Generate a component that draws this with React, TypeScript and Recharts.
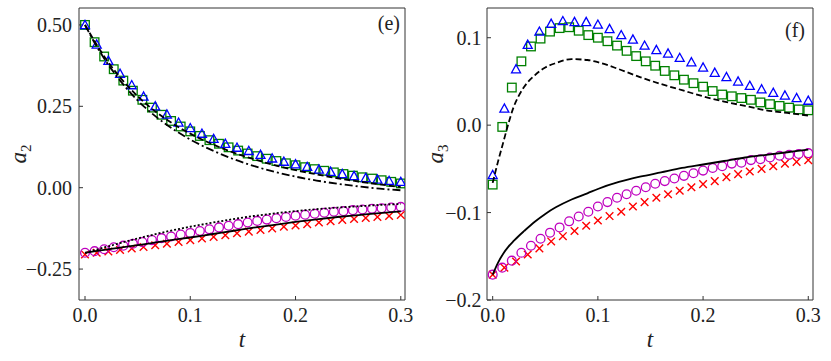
import React from "react";
import { ComposedChart, Line, Scatter, XAxis, YAxis } from "recharts";

// t positions of the markers
const tDense = [
  0, 0.0091, 0.0182, 0.0273, 0.0364, 0.0455, 0.0545, 0.0636, 0.0727, 0.0818, 0.0909, 0.1,
  0.1091, 0.1182, 0.1273, 0.1364, 0.1455, 0.1545, 0.1636, 0.1727, 0.1818, 0.1909, 0.2,
  0.2091, 0.2182, 0.2273, 0.2364, 0.2455, 0.2545, 0.2636, 0.2727, 0.2818, 0.2909, 0.3,
];
const tSparse = [
  0, 0.0111, 0.0222, 0.0333, 0.0444, 0.0556, 0.0667, 0.0778, 0.0889, 0.1, 0.1111, 0.1222,
  0.1333, 0.1444, 0.1556, 0.1667, 0.1778, 0.1889, 0.2, 0.2111, 0.2222, 0.2333, 0.2444,
  0.2556, 0.2667, 0.2778, 0.2889, 0.3,
];
const tLineE = [0, 0.01, 0.02, 0.03, 0.04, 0.05, 0.06, 0.08, 0.1, 0.12, 0.14, 0.16, 0.18, 0.2, 0.22, 0.24, 0.26, 0.28, 0.3];
const tLineF = [
  0, 0.005, 0.01, 0.015, 0.02, 0.025, 0.03, 0.04, 0.05, 0.06, 0.075, 0.09, 0.1, 0.12, 0.14,
  0.16, 0.18, 0.2, 0.22, 0.24, 0.26, 0.28, 0.3,
];

// panel (e): a2
const eTriangle = [
  0.5, 0.44, 0.39, 0.35, 0.315, 0.28, 0.25, 0.225, 0.2, 0.183, 0.166, 0.15, 0.135, 0.123,
  0.113, 0.101, 0.09, 0.08, 0.072, 0.064, 0.056, 0.049, 0.042, 0.036, 0.03, 0.025, 0.021, 0.018,
];
const eSquare = [
  0.5, 0.447, 0.403, 0.364, 0.329, 0.298, 0.27, 0.246, 0.224, 0.205, 0.188, 0.173, 0.159,
  0.146, 0.135, 0.124, 0.114, 0.105, 0.097, 0.089, 0.082, 0.075, 0.069, 0.063, 0.057, 0.052,
  0.047, 0.042, 0.037, 0.032, 0.028, 0.023, 0.018, 0.013,
];
const eCircle = [
  -0.2, -0.195, -0.189, -0.183, -0.178, -0.172, -0.167, -0.161, -0.155, -0.15, -0.144, -0.139,
  -0.133, -0.128, -0.122, -0.117, -0.112, -0.107, -0.102, -0.098, -0.094, -0.09, -0.086,
  -0.083, -0.08, -0.077, -0.074, -0.072, -0.069, -0.067, -0.065, -0.063, -0.061, -0.059,
];
const eCross = [
  -0.205, -0.2, -0.196, -0.191, -0.187, -0.182, -0.177, -0.172, -0.167, -0.161, -0.156, -0.151,
  -0.146, -0.14, -0.135, -0.13, -0.125, -0.12, -0.116, -0.112, -0.107, -0.103, -0.099, -0.096,
  -0.093, -0.09, -0.087, -0.084,
];
const eDashed = [0.5, 0.445, 0.395, 0.352, 0.314, 0.281, 0.252, 0.204, 0.166, 0.135, 0.109, 0.088, 0.069, 0.054, 0.041, 0.029, 0.019, 0.01, 0.002];
const eDashDot = [0.5, 0.44, 0.388, 0.343, 0.303, 0.268, 0.238, 0.188, 0.148, 0.116, 0.089, 0.067, 0.049, 0.034, 0.022, 0.012, 0.004, -0.003, -0.008];
const eSolid = [-0.2, -0.195, -0.19, -0.1855, -0.181, -0.1765, -0.172, -0.162, -0.153, -0.143, -0.133, -0.123, -0.114, -0.105, -0.097, -0.09, -0.084, -0.078, -0.073];
const eDotted = [-0.2, -0.191, -0.182, -0.173, -0.164, -0.156, -0.148, -0.133, -0.12, -0.108, -0.097, -0.087, -0.079, -0.072, -0.066, -0.061, -0.057, -0.053, -0.05];

// panel (f): a3
const fTriangle = [
  -0.057, 0.019, 0.064, 0.092, 0.107, 0.116, 0.119, 0.118, 0.118, 0.115, 0.11, 0.103, 0.098,
  0.091, 0.086, 0.082, 0.077, 0.072, 0.066, 0.06, 0.055, 0.05, 0.045, 0.041, 0.037, 0.034,
  0.031, 0.028,
];
const fSquare = [
  -0.068, -0.002, 0.043, 0.073, 0.09, 0.099, 0.107, 0.111, 0.112, 0.108, 0.103, 0.1, 0.096,
  0.091, 0.085, 0.079, 0.073, 0.068, 0.062, 0.057, 0.052, 0.048, 0.044, 0.039, 0.035, 0.033,
  0.031, 0.029, 0.026, 0.024, 0.022, 0.02, 0.018, 0.017,
];
const fCircle = [
  -0.171, -0.163, -0.155, -0.146, -0.138, -0.13, -0.123, -0.117, -0.11, -0.1045, -0.099, -0.093,
  -0.088, -0.083, -0.079, -0.075, -0.071, -0.067, -0.064, -0.061, -0.058, -0.055, -0.052,
  -0.049, -0.047, -0.044, -0.043, -0.04, -0.039, -0.037, -0.035, -0.034, -0.033, -0.032,
];
const fCross = [
  -0.171, -0.163, -0.156, -0.148, -0.141, -0.133, -0.127, -0.121, -0.115, -0.109, -0.104,
  -0.099, -0.093, -0.088, -0.083, -0.079, -0.075, -0.071, -0.0675, -0.064, -0.0595, -0.056,
  -0.053, -0.05, -0.047, -0.044, -0.042, -0.04,
];
const fDashed = [-0.066, -0.042, -0.02, 0.002, 0.021, 0.034, 0.044, 0.057, 0.066, 0.071, 0.0755, 0.0745, 0.072, 0.064, 0.055, 0.047, 0.04, 0.033, 0.027, 0.022, 0.017, 0.014, 0.011];
const fSolid = [-0.171, -0.1575, -0.147, -0.139, -0.1325, -0.1265, -0.121, -0.1105, -0.1015, -0.094, -0.085, -0.078, -0.073, -0.065, -0.059, -0.054, -0.049, -0.045, -0.041, -0.037, -0.034, -0.031, -0.028];

const xTicks = [0, 0.1, 0.2, 0.3];
const eYTicks = [-0.25, 0, 0.25, 0.5];
const fYTicks = [-0.2, -0.1, 0, 0.1];

const FONT = "Liberation Serif, DejaVu Serif, Times New Roman, serif";
const INK = "#222";

const pts = (t: number[], v: number[]) => t.map((tt, i) => ({ t: tt, v: v[i] }));
const fmt = (digits: number) => (v: number) =>
  (v < 0 ? "\u2212" : "") + Math.abs(v).toFixed(digits);

const TriangleMark = (p: any) => {
  const { cx, cy } = p;
  if (cx == null || cy == null) return null;
  return (
    <path
      d={`M${cx},${cy - 4.6}L${cx - 4.5},${cy + 3.6}L${cx + 4.5},${cy + 3.6}Z`}
      fill="none"
      stroke="#0000ff"
      strokeWidth={1.3}
    />
  );
};
const SquareMark = (p: any) => {
  const { cx, cy } = p;
  if (cx == null || cy == null) return null;
  return <rect x={cx - 4.3} y={cy - 4.3} width={8.6} height={8.6} fill="none" stroke="#008000" strokeWidth={1.3} />;
};
const CircleMark = (p: any) => {
  const { cx, cy } = p;
  if (cx == null || cy == null) return null;
  return <circle cx={cx} cy={cy} r={4.4} fill="none" stroke="#bf00bf" strokeWidth={1.3} />;
};
const CrossMark = (p: any) => {
  const { cx, cy } = p;
  if (cx == null || cy == null) return null;
  const r = 3.8;
  return (
    <path
      d={`M${cx - r},${cy - r}L${cx + r},${cy + r}M${cx - r},${cy + r}L${cx + r},${cy - r}`}
      stroke="#ff0000"
      strokeWidth={1.4}
    />
  );
};

const YTitle = (props: any) => {
  const { viewBox, sub, bx } = props;
  const cy = viewBox.y + viewBox.height / 2;
  return (
    <text
      transform={`translate(${bx},${cy}) rotate(-90)`}
      textAnchor="middle"
      style={{ fontFamily: FONT, fontSize: 23 }}
      fill={INK}
    >
      <tspan style={{ fontStyle: "italic" }}>a</tspan>
      <tspan style={{ fontSize: 15 }} dy={5}>{sub}</tspan>
    </text>
  );
};
const XTitle = (props: any) => {
  const { viewBox } = props;
  return (
    <text
      x={viewBox.x + viewBox.width / 2}
      y={347}
      textAnchor="middle"
      style={{ fontFamily: FONT, fontSize: 23, fontStyle: "italic" }}
      fill={INK}
    >
      t
    </text>
  );
};
const Tag = (props: any) => {
  const { viewBox, text, dx, by } = props;
  return (
    <text
      x={viewBox.x + viewBox.width - dx}
      y={by}
      textAnchor="end"
      style={{ fontFamily: FONT, fontSize: 20 }}
      fill={INK}
    >
      {text}
    </text>
  );
};

type Pts = { t: number[]; v: number[] };
type PanelProps = {
  width: number;
  yWidth: number;
  right: number;
  xDomain: [number, number];
  yDomain: [number, number];
  yTicks: number[];
  digits: number;
  sub: string;
  subX: number;
  tag: string;
  tagDx: number;
  tagY: number;
  yMargin: number;
  triangle: Pts;
  square: Pts;
  circle: Pts;
  cross: Pts;
  lines: (Pts & { dash?: string })[];
};

const Panel = (p: PanelProps) => {
  const tickStyle = { fill: INK, fontSize: 20, fontFamily: FONT, style: { fontFamily: FONT } };
  return (
    <ComposedChart
      width={p.width}
      height={361}
      margin={{ top: 7, right: p.right, bottom: 0, left: 0 }}
      style={{ fontFamily: FONT }}
    >
      <XAxis
        type="number"
        dataKey="t"
        domain={p.xDomain}
        ticks={xTicks}
        allowDataOverflow
        height={61}
        tickSize={-4}
        tickMargin={12}
        tickFormatter={fmt(1)}
        tick={tickStyle}
        stroke="#333"
        label={<XTitle />}
      />
      <XAxis
        xAxisId="top"
        orientation="top"
        type="number"
        dataKey="t"
        domain={p.xDomain}
        ticks={xTicks}
        allowDataOverflow
        height={1}
        tickSize={-4}
        tick={false}
        stroke="#333"
        label={<Tag text={p.tag} dx={p.tagDx} by={p.tagY} />}
      />
      <YAxis
        type="number"
        domain={p.yDomain}
        ticks={p.yTicks}
        allowDataOverflow
        width={p.yWidth}
        tickSize={-4}
        tickMargin={p.yMargin}
        tickFormatter={fmt(p.digits)}
        tick={tickStyle}
        stroke="#333"
        label={<YTitle sub={p.sub} bx={p.subX} />}
      />
      <YAxis
        yAxisId="right"
        orientation="right"
        type="number"
        domain={p.yDomain}
        ticks={p.yTicks}
        allowDataOverflow
        width={1}
        tickSize={-4}
        tick={false}
        stroke="#333"
      />
      <Scatter data={pts(p.square.t, p.square.v)} dataKey="v" shape={SquareMark} isAnimationActive={false} />
      <Scatter data={pts(p.triangle.t, p.triangle.v)} dataKey="v" shape={TriangleMark} isAnimationActive={false} />
      <Scatter data={pts(p.cross.t, p.cross.v)} dataKey="v" shape={CrossMark} isAnimationActive={false} />
      <Scatter data={pts(p.circle.t, p.circle.v)} dataKey="v" shape={CircleMark} isAnimationActive={false} />
      {p.lines.map((l, i) => (
        <Line
          key={i}
          data={pts(l.t, l.v)}
          dataKey="v"
          type="monotone"
          stroke="#000"
          strokeWidth={1.8}
          strokeDasharray={l.dash}
          dot={false}
          activeDot={false}
          isAnimationActive={false}
          zIndex={700}
        />
      ))}
    </ComposedChart>
  );
};

export default function App() {
  return (
    <div
      style={{
        position: "absolute",
        left: 0,
        top: 0,
        width: 831,
        height: 361,
        background: "#fff",
        fontFamily: FONT,
      }}
    >
      <div style={{ position: "absolute", left: 0, top: 0 }}>
        <Panel
          width={415}
          yWidth={79}
          right={9}
          xDomain={[-0.0057, 0.304]}
          yDomain={[-0.345, 0.552]}
          yTicks={eYTicks}
          digits={2}
          yMargin={11}
          sub="2"
          subX={26}
          tag="(e)"
          tagDx={5}
          tagY={30}
          triangle={{ t: tSparse, v: eTriangle }}
          square={{ t: tDense, v: eSquare }}
          circle={{ t: tDense, v: eCircle }}
          cross={{ t: tSparse, v: eCross }}
          lines={[
            { t: tLineE, v: eDashed, dash: "6 3" },
            { t: tLineE, v: eDashDot, dash: "8 3 2 3" },
            { t: tLineE, v: eSolid },
            { t: tLineE, v: eDotted, dash: "2 2" },
          ]}
        />
      </div>
      <div style={{ position: "absolute", left: 410, top: 0 }}>
        <Panel
          width={421}
          yWidth={77}
          right={17}
          xDomain={[-0.0054, 0.3045]}
          yDomain={[-0.2, 0.134]}
          yTicks={fYTicks}
          digits={1}
          yMargin={9.5}
          sub="3"
          subX={33}
          tag="(f)"
          tagDx={8}
          tagY={37}
          triangle={{ t: tSparse, v: fTriangle }}
          square={{ t: tDense, v: fSquare }}
          circle={{ t: tDense, v: fCircle }}
          cross={{ t: tSparse, v: fCross }}
          lines={[
            { t: tLineF, v: fDashed, dash: "6 3" },
            { t: tLineF, v: fSolid },
          ]}
        />
      </div>
    </div>
  );
}
